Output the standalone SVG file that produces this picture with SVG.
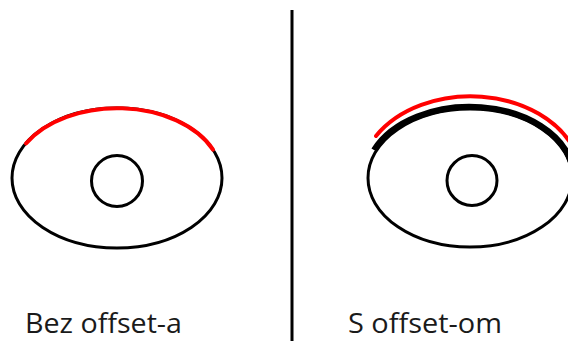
<svg xmlns="http://www.w3.org/2000/svg" width="568" height="341" viewBox="0 0 568 341">
<style>
.blk{fill:none;stroke:#000;stroke-width:3}
.red{fill:none;stroke:#ff0000;stroke-width:4;stroke-linecap:round}
.lbl{font-family:"Open Sans","Liberation Sans",sans-serif;font-size:27px;fill:#1a1a1a}
</style>
<rect width="568" height="341" fill="#fff"/>
<g id="left">
<ellipse class="blk" cx="117" cy="178" rx="105" ry="70"/>
<circle class="blk" cx="117" cy="181" r="25.5"/>
<path class="red" d="M 26 143.5 A 105 70 0 0 1 213 149.6"/>
<text class="lbl" x="25" y="333" textLength="157" lengthAdjust="spacingAndGlyphs">Bez offset-a</text>
</g>
<g id="divider">
<line x1="292" y1="10" x2="292" y2="341" stroke="#000" stroke-width="3"/>
</g>
<g id="right">
<ellipse class="blk" cx="470" cy="178" rx="102" ry="69"/>
<circle class="blk" cx="472" cy="180.5" r="25"/>
<path fill="none" stroke="#000" stroke-width="6" d="M 374 150 A 104 71 0 0 1 572 165"/>
<path class="red" d="M 376 136 A 111 83 0 0 1 575 151"/>
<text class="lbl" x="348" y="333" textLength="154" lengthAdjust="spacingAndGlyphs">S offset-om</text>
</g>
</svg>
